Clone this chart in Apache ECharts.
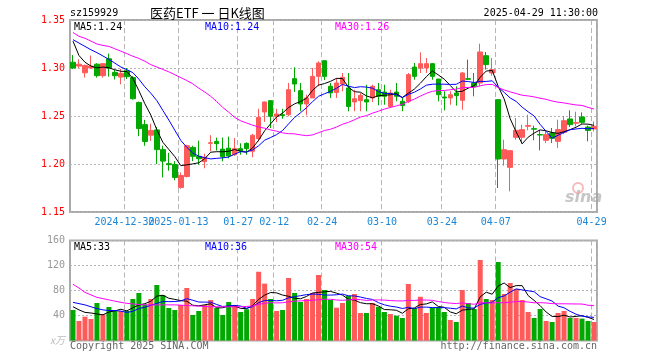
<!DOCTYPE html>
<html><head><meta charset="utf-8">
<script src="https://cdn.jsdelivr.net/npm/echarts@6/dist/echarts.min.js"></script>
<style>html,body{margin:0;padding:0;background:#fff}#c{width:660px;height:360px}</style>
</head><body><div id="c"></div>
<script>
// ---------- data ----------
const dates = [
'2024-12-17','2024-12-18','2024-12-19','2024-12-20','2024-12-23','2024-12-24','2024-12-25','2024-12-26','2024-12-27','2024-12-30','2024-12-31',
'2025-01-02','2025-01-03','2025-01-06','2025-01-07','2025-01-08','2025-01-09','2025-01-10','2025-01-13','2025-01-14','2025-01-15','2025-01-16','2025-01-17','2025-01-20','2025-01-21','2025-01-22','2025-01-23','2025-01-24','2025-01-27',
'2025-02-05','2025-02-06','2025-02-07','2025-02-10','2025-02-11','2025-02-12','2025-02-13','2025-02-14','2025-02-17','2025-02-18','2025-02-19','2025-02-20','2025-02-21','2025-02-24','2025-02-25','2025-02-26','2025-02-27','2025-02-28',
'2025-03-03','2025-03-04','2025-03-05','2025-03-06','2025-03-07','2025-03-10','2025-03-11','2025-03-12','2025-03-13','2025-03-14','2025-03-17','2025-03-18','2025-03-19','2025-03-20','2025-03-21','2025-03-24','2025-03-25','2025-03-26','2025-03-27','2025-03-28','2025-03-31',
'2025-04-01','2025-04-02','2025-04-03','2025-04-07','2025-04-08','2025-04-09','2025-04-10','2025-04-11','2025-04-14','2025-04-15','2025-04-16','2025-04-17','2025-04-18','2025-04-21','2025-04-22','2025-04-23','2025-04-24','2025-04-25','2025-04-28','2025-04-29'];

const open = [1.306,1.302,1.295,1.300,1.304,1.292,1.3096,1.2955,1.2906,1.297,1.290,
1.264,1.241,1.230,1.2355,1.215,1.2003,1.1995,1.1756,1.187,1.2173,1.208,1.2025,1.2215,1.2236,1.2155,1.2165,1.2097,1.216,
1.2215,1.2132,1.2264,1.2542,1.266,1.2497,1.2514,1.2514,1.2889,1.2764,1.2625,1.2688,1.2913,1.3076,1.281,1.2745,1.2833,1.2792,
1.2646,1.266,1.267,1.2688,1.2774,1.275,1.260,1.275,1.2653,1.2653,1.301,1.300,1.300,1.3045,1.2885,1.2698,1.2688,1.274,1.2663,1.2889,1.2844,
1.2844,1.3128,1.2948,1.267,1.2052,1.1965,1.2278,1.2278,1.2393,1.2368,1.2306,1.2247,1.2323,1.2236,1.233,1.2469,1.2424,1.249,1.2385,1.2365];

const close = [1.300,1.304,1.3027,1.302,1.292,1.3045,1.300,1.292,1.2944,1.291,1.268,
1.237,1.2235,1.235,1.215,1.203,1.1993,1.186,1.188,1.219,1.208,1.2055,1.207,1.2222,1.2212,1.2075,1.2085,1.216,1.2135,
1.216,1.2299,1.2486,1.2646,1.2497,1.2521,1.2504,1.2774,1.2833,1.2625,1.2688,1.2913,1.3052,1.2913,1.274,1.2844,1.2903,1.260,
1.268,1.2715,1.2646,1.2809,1.2705,1.2705,1.274,1.2705,1.261,1.2931,1.2913,1.3045,1.3045,1.2913,1.2722,1.2688,1.2722,1.2712,1.2948,1.2882,1.2809,
1.3167,1.3035,1.2983,1.2052,1.2149,1.2139,1.2351,1.2358,1.240,1.2363,1.2302,1.2306,1.2267,1.2358,1.2451,1.241,1.2431,1.2434,1.235,1.2392];

const low = [1.299,1.300,1.290,1.299,1.290,1.290,1.291,1.288,1.283,1.2885,1.267,
1.229,1.219,1.224,1.200,1.186,1.193,1.183,1.1743,1.186,1.203,1.1993,1.1955,1.2132,1.214,1.2028,1.206,1.2085,1.2097,
1.2097,1.207,1.2236,1.2438,1.2375,1.2438,1.2472,1.2497,1.275,1.2549,1.2507,1.2688,1.281,1.2875,1.2688,1.2688,1.2757,1.2549,
1.2549,1.2549,1.2549,1.2646,1.2611,1.2618,1.2583,1.2653,1.2549,1.2635,1.2878,1.2948,1.2948,1.2878,1.2653,1.2559,1.2618,1.2608,1.2566,1.2878,1.2705,
1.2809,1.2983,1.292,1.175,1.1983,1.1715,1.2253,1.2215,1.2351,1.2247,1.2142,1.2219,1.2219,1.2167,1.231,1.2385,1.2392,1.242,1.2236,1.234];

const high = [1.3135,1.309,1.3035,1.313,1.305,1.305,1.315,1.298,1.299,1.300,1.2915,
1.265,1.246,1.242,1.2385,1.219,1.2115,1.203,1.1913,1.220,1.219,1.2243,1.2107,1.230,1.2275,1.2275,1.2285,1.227,1.2215,
1.2225,1.2313,1.2576,1.265,1.266,1.2576,1.2576,1.2844,1.3007,1.2844,1.2722,1.300,1.307,1.3076,1.2844,1.2896,1.2948,1.2948,
1.2774,1.274,1.2826,1.2826,1.2844,1.2826,1.2774,1.2844,1.2694,1.2948,1.3052,1.3163,1.3104,1.3052,1.2885,1.2757,1.2757,1.2809,1.2958,1.3087,1.2948,
1.3253,1.3167,1.3104,1.267,1.2253,1.2139,1.2479,1.241,1.2514,1.2399,1.2358,1.234,1.2375,1.2462,1.250,1.2559,1.2545,1.2538,1.240,1.2444];

const volume = [48.8,31.2,38.1,34.4,60,41.9,53.6,47.2,47.2,47.2,66.4,
76,57.9,66.4,88.8,72.8,52,48.8,56.8,84,40.8,47.2,56.8,64.8,52,40.8,61.6,56.8,45.6,
50,66.4,110,91,66.4,47.2,48.8,100,76,61.6,66.4,76,104.8,80.8,64.8,52.5,60,71.7,
74.4,44,44,60,54,45.6,42.4,39.7,36,90.4,52,70,44,52.5,53.6,45.6,32.8,29.6,80.8,60,50.4,
128.8,66.4,64.8,125.6,74.4,92,82.4,64.8,45.6,36,50.4,31.2,29.6,44,47.2,36,36,35,31.2,29.6];

// moving-average values before enough history exists
const ma5Head  = [1.328,1.313,1.306,1.302];
const ma10Head = [1.3295,1.326,1.3225,1.319,1.316,1.3125,1.309,1.305,1.301];
const ma30Head = [1.337,1.333,1.331,1.328,1.325,1.3235,1.3225,1.320,1.3175,1.315,1.3122,1.310,1.307,1.3035,1.301,1.2985,1.296,1.293,1.290,1.287,1.2835,1.279,1.275,1.2705,1.265,1.259,1.254,1.2485,1.245];
const vma5Head  = [54,49,45,44];
const vma10Head = [61,59,57,54,51,49,48,48,47];
const vma30Head = [90,84,77,73,69,67,65,63,61,59.5,58.5,57.5,57,57,57,57,57,57,56.5,56,55.5,55,54.5,54,54,54,54,54,54];

const labelDates = ['2024-12-30','2025-01-13','2025-01-27','2025-02-12','2025-02-24','2025-03-10','2025-03-24','2025-04-07','2025-04-29'];
const labelTexts = ['2024-12-30','2025-01-13','01-27','02-12','02-24','03-10','03-24','04-07','04-29'];
const priceTicks = [1.15,1.20,1.25,1.30,1.35];
const volTicks = [0,40,80,120,160];

// ---------- build ----------
function ma(arr, n, head) {
  return arr.map((v, i) => {
    if (i < head.length) return head[i];
    let s = 0; for (let k = i - n + 1; k <= i; k++) s += arr[k];
    return +(s / n).toFixed(4);
  });
}
const kData = dates.map((d, i) => [open[i], close[i], low[i], high[i]]);
const UP = '#ff5a5a', DN = '#00a800';
const volData = volume.map((v, i) => ({value: v, itemStyle: {color: close[i] >= open[i] ? UP : DN}}));
const isLabel = (idx) => labelDates.indexOf(dates[idx]) >= 0;
const MONO = 'DejaVu Sans Mono';

const vSplit = {show: true, interval: (i) => isLabel(i), lineStyle: {color: '#b4b4b4', type: [5, 3], width: 1}};
const gridStyle = {show: true, borderColor: '#aaa', borderWidth: 2, backgroundColor: '#fff'};

const chart = echarts.init(document.getElementById('c'), null, {renderer: 'canvas'});
chart.setOption({
  animation: false,
  grid: [
    Object.assign({left: 70, right: 63, top: 20, height: 192}, gridStyle),
    Object.assign({left: 70, right: 63, top: 240.5, height: 100}, gridStyle)
  ],
  xAxis: [
    {type: 'category', gridIndex: 0, data: dates, boundaryGap: true,
     axisLine: {show: false}, axisTick: {show: false}, splitLine: vSplit,
     axisLabel: {show: false}},
    {type: 'category', gridIndex: 1, data: dates, boundaryGap: true,
     axisLine: {show: false}, axisTick: {show: false}, splitLine: vSplit, axisLabel: {show: false}}
  ],
  yAxis: [
    {type: 'value', gridIndex: 0, min: priceTicks[0], max: priceTicks[priceTicks.length - 1], interval: 0.05,
     axisLine: {show: false}, axisTick: {show: false},
     splitLine: {show: true, lineStyle: {color: '#b4b4b4', type: [2, 2]}},
     axisLabel: {color: '#ff0000', fontFamily: MONO, fontSize: 10, margin: 5, formatter: (v) => v.toFixed(2)}},
    {type: 'value', gridIndex: 1, min: volTicks[0], max: volTicks[volTicks.length - 1], interval: 40,
     axisLine: {show: false}, axisTick: {show: false},
     splitLine: {show: true, lineStyle: {color: '#b4b4b4', type: [2, 2]}},
     axisLabel: {color: '#999', fontFamily: MONO, fontSize: 10, margin: 5,
       formatter: (v) => v === 0 ? '{u|x万}' : String(v),
       rich: {u: {color: '#bbb', fontSize: 10, fontStyle: 'italic', fontFamily: 'Noto Sans CJK SC'}}}}
  ],
  series: [
    {type: 'candlestick', xAxisIndex: 0, yAxisIndex: 0, data: kData, barWidth: 5,
     itemStyle: {color: UP, color0: DN, borderColor: UP, borderColor0: DN, borderWidth: 1}},
    {type: 'line', xAxisIndex: 0, yAxisIndex: 0, data: ma(close, 5, ma5Head), symbol: 'none', lineStyle: {color: '#000', width: 1}, z: 5},
    {type: 'line', xAxisIndex: 0, yAxisIndex: 0, data: ma(close, 10, ma10Head), symbol: 'none', lineStyle: {color: '#0000ff', width: 1}, z: 5},
    {type: 'line', xAxisIndex: 0, yAxisIndex: 0, data: ma(close, 30, ma30Head), symbol: 'none', lineStyle: {color: '#ff00ff', width: 1}, z: 5},
    {type: 'bar', xAxisIndex: 1, yAxisIndex: 1, data: volData, barWidth: 5},
    {type: 'line', xAxisIndex: 1, yAxisIndex: 1, data: ma(volume, 5, vma5Head), symbol: 'none', lineStyle: {color: '#000', width: 1}, z: 5},
    {type: 'line', xAxisIndex: 1, yAxisIndex: 1, data: ma(volume, 10, vma10Head), symbol: 'none', lineStyle: {color: '#0000ff', width: 1}, z: 5},
    {type: 'line', xAxisIndex: 1, yAxisIndex: 1, data: ma(volume, 30, vma30Head), symbol: 'none', lineStyle: {color: '#ff00ff', width: 1}, z: 5}
  ],
  graphic: [
    {type: 'text', x: 70, y: 13, style: {text: 'sz159929', font: '10px "DejaVu Sans Mono"', fill: '#000', verticalAlign: 'middle'}},
    {type: 'text', x: 150, y: 13, style: {text: '医药ETF 一 日K线图', font: '13px "Noto Sans CJK SC"', fill: '#000', verticalAlign: 'middle'}},
    {type: 'text', x: 598, y: 13, style: {text: '2025-04-29 11:30:00', font: '10px "DejaVu Sans Mono"', fill: '#000', align: 'right', verticalAlign: 'middle'}},
    {type: 'text', x: 74, y: 27, z: 10, style: {text: 'MA5:1.24', font: '10px "DejaVu Sans Mono"', fill: '#000', verticalAlign: 'middle'}},
    {type: 'text', x: 205, y: 27, z: 10, style: {text: 'MA10:1.24', font: '10px "DejaVu Sans Mono"', fill: '#0000ff', verticalAlign: 'middle'}},
    {type: 'text', x: 335, y: 27, z: 10, style: {text: 'MA30:1.26', font: '10px "DejaVu Sans Mono"', fill: '#ff00ff', verticalAlign: 'middle'}},
    {type: 'text', x: 74, y: 247, z: 10, style: {text: 'MA5:33', font: '10px "DejaVu Sans Mono"', fill: '#000', verticalAlign: 'middle'}},
    {type: 'text', x: 205, y: 247, z: 10, style: {text: 'MA10:36', font: '10px "DejaVu Sans Mono"', fill: '#0000ff', verticalAlign: 'middle'}},
    {type: 'text', x: 335, y: 247, z: 10, style: {text: 'MA30:54', font: '10px "DejaVu Sans Mono"', fill: '#ff00ff', verticalAlign: 'middle'}},
    {type: 'text', x: 70, y: 346, style: {text: 'Copyright 2025 SINA.COM', font: '10px "DejaVu Sans Mono"', fill: '#666', verticalAlign: 'middle'}},
    {type: 'text', x: 597, y: 346, style: {text: 'http://finance.sina.com.cn', font: '10px "DejaVu Sans Mono"', fill: '#666', align: 'right', verticalAlign: 'middle'}},
    {type: 'circle', z: 1, shape: {cx: 578, cy: 188, r: 5}, style: {fill: 'none', stroke: 'rgba(240,130,130,0.55)', lineWidth: 2}},
    {type: 'text', x: 565, y: 198, z: 1, style: {text: 'sina', font: 'italic bold 16px "DejaVu Sans"', fill: 'rgba(160,160,160,0.6)', verticalAlign: 'middle'}}
  ]
});
// x-axis date labels, placed through the axis scale (centred on the dashed split lines)
const band = chart.convertToPixel({xAxisIndex: 0}, dates[1]) - chart.convertToPixel({xAxisIndex: 0}, dates[0]);
const xLabels = labelDates.map((d, k) => ({
  type: 'text',
  x: chart.convertToPixel({xAxisIndex: 0}, d) - band * 0.4,
  y: 222,
  style: {text: labelTexts[k], font: '10px "DejaVu Sans Mono"', fill: '#1b87d8', align: 'center', verticalAlign: 'middle'}
}));
chart.setOption({graphic: chart.getOption().graphic[0].elements.concat(xLabels)}, {replaceMerge: []});
</script>
</body></html>
